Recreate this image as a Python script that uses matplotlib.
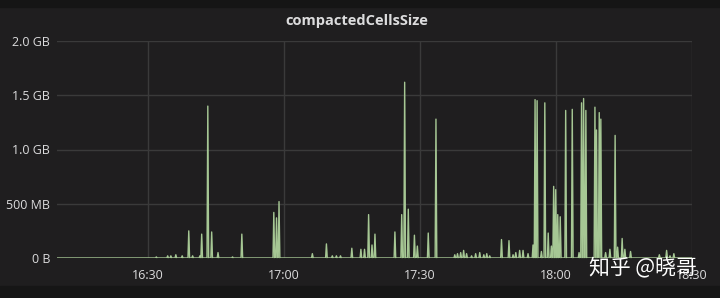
import matplotlib

matplotlib.use("Agg")
import matplotlib.pyplot as plt
import numpy as np
from matplotlib.patches import Rectangle
from matplotlib.ticker import FixedLocator, FuncFormatter

# time axis in minutes after 16:00
T_START, T_END = 10.0, 150.0
X_TICKS = [30, 60, 90, 120, 150]
Y_TICKS = [0.0, 0.5, 1.0, 1.5, 2.0]
Y_LABELS = ["0 B", "500 MB", "1.0 GB", "1.5 GB", "2.0 GB"]

# sampled peaks (minutes after 16:00) and their size in GB; baseline is 0 between them
SPIKE_MIN = [31.9, 34.4, 35.1, 36.2, 37.6, 39.05, 39.9, 41.5, 41.9, 43.25, 44.1, 45.5,
             48.7, 50.75, 57.8, 58.4, 58.95, 66.3, 69.4, 70.7, 71.6, 72.5, 75.0, 77.0,
             77.8, 78.7, 79.45, 80.1, 84.5, 86.0, 86.65, 87.45, 88.8, 89.45, 91.85, 93.55,
             97.7, 98.3, 99.0, 99.65, 100.3, 101.4, 102.3, 103.2, 104.1, 104.75, 105.4,
             108.0, 109.65, 110.55, 111.15, 112.0, 112.75, 113.85, 114.95, 115.4, 115.85,
             116.8, 117.55, 118.3, 119.0, 119.5, 119.95, 120.4, 120.95, 122.15, 123.6,
             125.1, 125.65, 126.1, 126.6, 128.6, 128.95, 129.55, 129.9, 130.95, 131.9,
             133.05, 133.6, 134.6, 135.2, 136.45, 142.8, 144.4, 145.15, 146.0]
SPIKE_GB = [0.01, 0.02, 0.02, 0.03, 0.02, 0.25, 0.02, 0.02, 0.22, 1.40, 0.24, 0.05,
            0.01, 0.22, 0.42, 0.37, 0.52, 0.04, 0.13, 0.02, 0.02, 0.02, 0.09, 0.08,
            0.08, 0.40, 0.12, 0.22, 0.24, 0.40, 1.62, 0.45, 0.21, 0.11, 0.23, 1.28,
            0.03, 0.04, 0.05, 0.07, 0.04, 0.02, 0.04, 0.05, 0.03, 0.04, 0.02,
            0.17, 0.16, 0.03, 0.05, 0.07, 0.07, 0.04, 0.12, 1.46, 1.45,
            0.06, 1.43, 0.23, 0.11, 0.66, 0.63, 0.40, 0.38, 1.36, 1.37,
            0.05, 1.43, 1.47, 1.36, 1.39, 1.18, 1.34, 1.28, 0.05, 0.08,
            1.13, 0.10, 0.18, 0.08, 0.06, 0.03, 0.07, 0.02, 0.04]
HALF = 0.18  # half width of one sample spike, minutes

BG = "#1f1e1f"
TEXT = "#dcdcdd"
GRID = "#3a3a3a"
LINE = "#a6c794"
FILL = "#7eb26d"

plt.rcParams["font.family"] = ["Open Sans", "DejaVu Sans"]

t = [T_START]
v = [0.0]
for m, g in zip(SPIKE_MIN, SPIKE_GB):
    t += [m - HALF, m, m + HALF]
    v += [0.0, g, 0.0]
t.append(T_END)
v.append(0.0)
order = np.argsort(t, kind="stable")
t = np.asarray(t)[order]
v = np.asarray(v)[order]

fig = plt.figure(figsize=(7.2, 2.98), dpi=100, facecolor=BG)
# darker frame strips at top and bottom
fig.patches.append(Rectangle((0, 1 - 7 / 298), 1, 7 / 298, transform=fig.transFigure,
                             color="#151515", zorder=0))
fig.patches.append(Rectangle((0, 0), 1, 12 / 298, transform=fig.transFigure,
                             color="#161616", zorder=0))

ax = fig.add_axes([57 / 720, 40 / 298, 635 / 720, 217 / 298])
ax.set_facecolor(BG)
ax.fill_between(t, v, 0, color=FILL, alpha=0.3, lw=0)
ax.plot(t, v, color=LINE, lw=1.0)

ax.set_xlim(T_START, T_END)
ax.set_ylim(0, 2.0)
ax.xaxis.set_major_locator(FixedLocator(X_TICKS))
ax.xaxis.set_major_formatter(FuncFormatter(lambda x, _: f"{16 + int(x) // 60}:{int(x) % 60:02d}"))
ax.set_yticks(Y_TICKS)
ax.set_yticklabels(Y_LABELS)
ax.grid(True, color=GRID, lw=1.0)
ax.set_axisbelow(True)
for s in ax.spines.values():
    s.set_visible(False)
ax.tick_params(length=0, colors=TEXT, labelsize=9)
ax.tick_params(axis="x", pad=8)
ax.tick_params(axis="y", pad=5)

fig.text(0.496, 1 - 21 / 298, "compactedCellsSize", ha="center", va="center",
         color=TEXT, fontsize=10.5, fontweight="bold")
# watermark sits over the last time label, as in the source screenshot
fig.text(643 / 720, 1 - 268 / 298, "知乎 @晓哥", ha="center", va="center", color="white",
         fontsize=15, family=["Noto Sans CJK SC", "DejaVu Sans"], zorder=5)

fig.savefig("out.png", dpi=100, facecolor=BG)
